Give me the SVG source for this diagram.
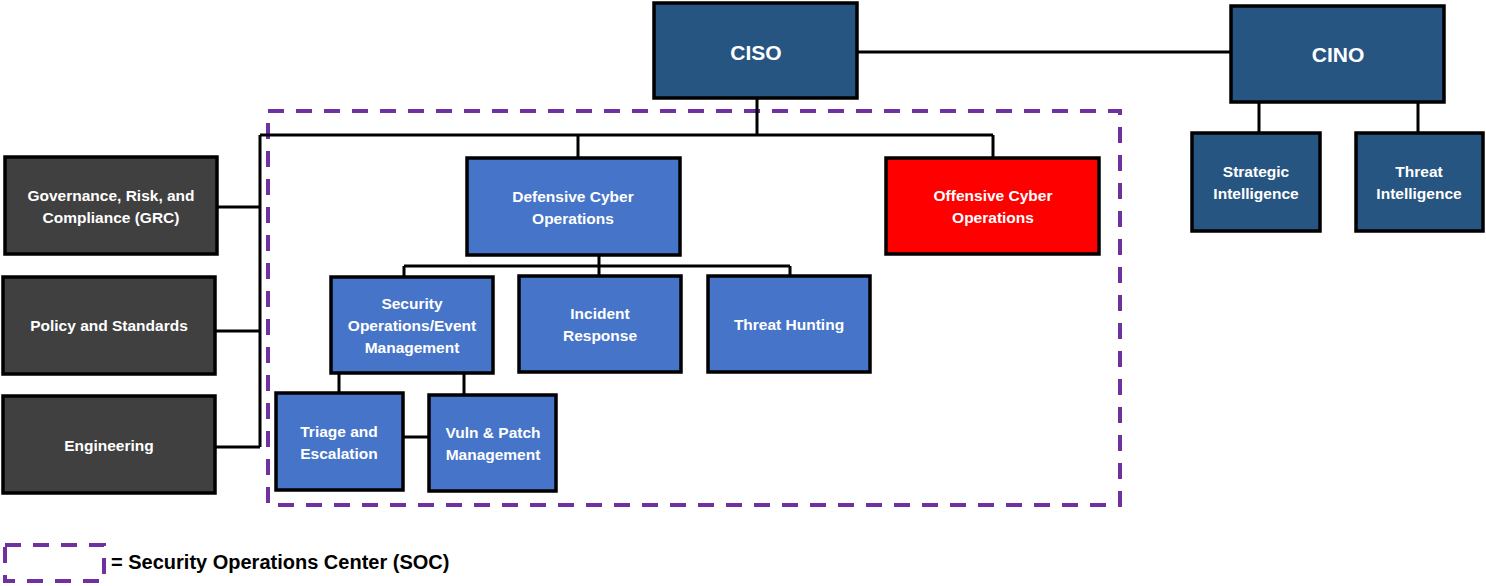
<svg xmlns="http://www.w3.org/2000/svg" width="1486" height="586" viewBox="0 0 1486 586">
<style>
.box{stroke:#000;stroke-width:3.5}
.navy{fill:#275581}
.blue{fill:#4674C8}
.gray{fill:#404040}
.red{fill:#FF0000}
.t{font-family:"Liberation Sans",Arial,sans-serif;font-weight:bold;font-size:15.5px;fill:#fff;text-anchor:middle}
.big{font-size:21px}
.ln{stroke:#000;stroke-width:3;fill:none}
.soc{stroke:#7030A0;stroke-width:4;fill:none;stroke-dasharray:16 12}
</style>
<rect width="1486" height="586" fill="#fff"/>
<g id="soc-boundary"><rect class="soc" x="268" y="111" width="852" height="394"/></g>
<g id="connectors">
<path class="ln" d="M858 52H1230"/>
<path class="ln" d="M757 98V135M260 135H993M578 135V157M993 135V157"/>
<path class="ln" d="M260 135V447M218 207H260M216 331H260M216 447H260"/>
<path class="ln" d="M599 256V266M404 266H790M404 266V276M599 266V275M790 266V275"/>
<path class="ln" d="M339 374V392M464 374V394M404 437H428"/>
<path class="ln" d="M1259 102V132M1418 102V132"/>
</g>
<g id="ciso"><rect class="box navy" x="654" y="3" width="203" height="95"/><text class="t big" x="756" y="60">CISO</text></g>
<g id="cino"><rect class="box navy" x="1231" y="6" width="213" height="96"/><text class="t big" x="1338" y="62">CINO</text></g>
<g id="strategic"><rect class="box navy" x="1192" y="133" width="128" height="98"/><text class="t" x="1256" y="177">Strategic</text><text class="t" x="1256" y="199">Intelligence</text></g>
<g id="threat-intel"><rect class="box navy" x="1356" y="133" width="127" height="98"/><text class="t" x="1419" y="177">Threat</text><text class="t" x="1419" y="199">Intelligence</text></g>
<g id="grc"><rect class="box gray" x="5" y="157" width="212" height="97"/><text class="t" x="111" y="201">Governance, Risk, and</text><text class="t" x="111" y="223">Compliance (GRC)</text></g>
<g id="policy"><rect class="box gray" x="3" y="277" width="212" height="97"/><text class="t" x="109" y="331">Policy and Standards</text></g>
<g id="engineering"><rect class="box gray" x="3" y="396" width="212" height="97"/><text class="t" x="109" y="451">Engineering</text></g>
<g id="defensive"><rect class="box blue" x="467" y="158" width="213" height="97"/><text class="t" x="573" y="202">Defensive Cyber</text><text class="t" x="573" y="224">Operations</text></g>
<g id="offensive"><rect class="box red" x="886" y="158" width="213" height="96"/><text class="t" x="993" y="201">Offensive Cyber</text><text class="t" x="993" y="223">Operations</text></g>
<g id="secops"><rect class="box blue" x="331" y="277" width="162" height="96"/><text class="t" x="412" y="309">Security</text><text class="t" x="412" y="331">Operations/Event</text><text class="t" x="412" y="353">Management</text></g>
<g id="incident"><rect class="box blue" x="519" y="276" width="162" height="96"/><text class="t" x="600" y="319">Incident</text><text class="t" x="600" y="341">Response</text></g>
<g id="hunting"><rect class="box blue" x="708" y="276" width="162" height="96"/><text class="t" x="789" y="330">Threat Hunting</text></g>
<g id="triage"><rect class="box blue" x="276" y="393" width="127" height="97"/><text class="t" x="339" y="437">Triage and</text><text class="t" x="339" y="459">Escalation</text></g>
<g id="vuln"><rect class="box blue" x="429" y="395" width="127" height="96"/><text class="t" x="493" y="438">Vuln &amp; Patch</text><text class="t" x="493" y="460">Management</text></g>
<g id="legend"><rect class="soc" x="5" y="545" width="99" height="36"/><text x="111" y="569" font-family="Liberation Sans,Arial,sans-serif" font-weight="bold" font-size="20" fill="#000">= Security Operations Center (SOC)</text></g>
</svg>
